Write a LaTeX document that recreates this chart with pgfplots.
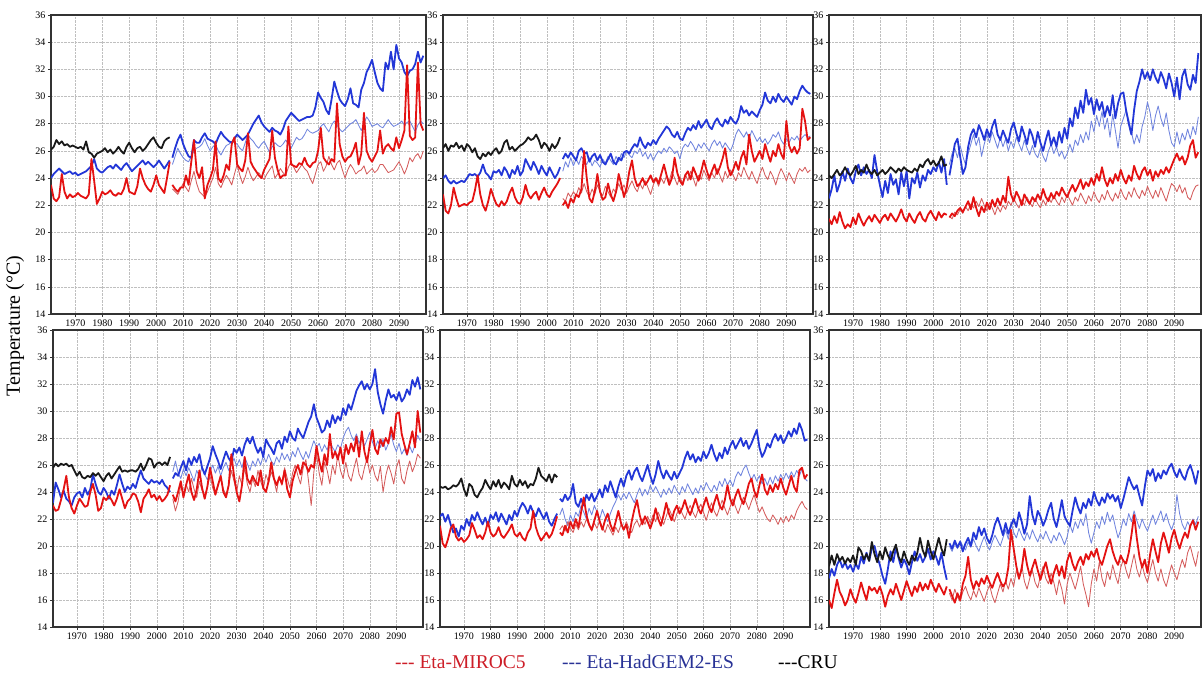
\documentclass[border=0pt]{standalone}
\usepackage{pgfplots}
\pgfplotsset{compat=1.18}
\usepackage{pgfplotstable}
\usepackage{fontspec}
\setmainfont{Liberation Serif}
\definecolor{rthick}{RGB}{228,18,18}
\definecolor{rthin}{RGB}{212,92,92}
\definecolor{bthick}{RGB}{35,55,215}
\definecolor{bthin}{RGB}{112,132,222}
\definecolor{legred}{RGB}{205,30,40}
\definecolor{legblue}{RGB}{40,50,150}

\pgfplotstableread{
yr c r b
1961 26.1 23.5 24.0
1962 26.3 22.5 24.3
1963 26.8 22.3 24.5
1964 26.5 22.6 24.7
1965 26.7 24.3 24.5
1966 26.4 23.0 24.3
1967 26.5 22.5 24.4
1968 26.3 22.8 24.5
1969 26.4 22.6 24.3
1970 26.3 22.7 24.4
1971 26.2 22.9 24.2
1972 26.3 22.7 24.3
1973 26.1 22.6 24.4
1974 26.7 22.5 24.5
1975 25.9 22.8 24.7
1976 25.8 25.4 24.9
1977 25.5 23.8 25.4
1978 25.8 22.1 24.7
1979 25.9 22.5 24.5
1980 26.0 23.0 24.4
1981 26.2 22.8 24.6
1982 25.9 22.9 24.8
1983 26.1 23.1 24.9
1984 25.8 22.8 24.7
1985 26.0 22.7 25.0
1986 26.3 22.9 24.8
1987 26.0 22.8 24.6
1988 25.8 23.2 24.9
1989 26.3 24.0 25.1
1990 26.6 23.0 24.8
1991 26.2 22.9 24.5
1992 25.9 22.8 24.7
1993 26.2 23.4 24.9
1994 26.3 24.7 25.1
1995 26.0 24.0 25.3
1996 26.2 23.5 25.0
1997 26.5 23.2 25.2
1998 26.8 23.0 25.0
1999 27.0 23.5 24.8
2000 26.6 24.2 25.0
2001 26.3 23.5 25.3
2002 26.2 23.2 25.0
2003 26.7 22.9 24.7
2004 26.9 24.0 25.0
2005 27.0 25.2 25.3
}\hA
\pgfplotstableread{
yr r8 r4 b8 b4
2006 23.5 23.2 25.5 25.0
2007 23.2 23.0 26.2 25.6
2008 23.0 22.8 26.8 26.2
2009 23.3 23.2 27.2 25.8
2010 23.3 23.6 26.5 25.5
2011 24.2 23.3 26.0 25.3
2012 23.5 23.0 25.6 25.2
2013 25.2 23.8 25.5 25.6
2014 26.8 24.5 26.8 26.0
2015 24.5 23.6 26.6 26.2
2016 24.0 23.0 26.6 26.3
2017 24.8 22.8 27.0 26.5
2018 22.5 22.6 27.3 26.9
2019 23.5 23.0 26.9 26.4
2020 24.0 23.5 26.8 26.0
2021 24.6 24.0 26.7 26.3
2022 26.7 24.8 26.5 26.5
2023 24.0 23.6 27.0 26.0
2024 23.7 23.3 27.4 25.7
2025 24.2 23.8 27.1 26.1
2026 25.0 24.2 26.9 26.4
2027 24.6 23.9 26.7 26.5
2028 26.5 23.5 26.6 26.7
2029 27.0 24.3 26.9 26.6
2030 25.0 25.0 27.2 26.5
2031 24.7 24.2 27.0 26.2
2032 24.5 23.6 26.8 26.0
2033 25.3 24.1 27.0 26.6
2034 27.3 24.8 27.2 27.2
2035 25.2 24.2 27.6 26.9
2036 24.8 23.8 28.0 26.7
2037 24.5 24.1 28.3 26.4
2038 24.2 24.4 28.6 26.2
2039 24.0 24.1 28.1 26.5
2040 24.6 23.9 27.8 26.7
2041 25.0 24.3 27.6 26.3
2042 25.4 24.6 27.4 25.9
2043 27.5 24.9 27.7 26.3
2044 25.5 24.0 27.5 26.6
2045 24.6 24.3 27.4 26.4
2046 24.0 24.7 27.2 26.3
2047 24.2 24.4 27.6 26.5
2048 24.2 24.2 28.2 26.8
2049 27.8 24.8 28.5 26.5
2050 25.0 25.2 28.8 26.2
2051 24.9 24.8 28.6 26.6
2052 24.8 24.4 28.4 27.0
2053 25.1 24.7 28.2 26.8
2054 25.0 25.0 28.3 26.9
2055 25.5 24.7 28.4 27.2
2056 25.0 24.5 28.5 27.6
2057 24.8 24.0 28.5 27.4
2058 25.1 23.6 28.6 27.3
2059 25.2 24.3 29.2 27.4
2060 26.0 25.0 30.3 27.5
2061 27.7 25.2 29.9 27.8
2062 25.5 24.5 29.6 28.0
2063 25.2 24.9 29.0 27.7
2064 25.0 25.6 28.7 27.4
2065 25.4 25.0 29.8 27.9
2066 25.2 24.6 31.1 28.2
2067 29.5 25.1 30.4 27.9
2068 26.5 25.3 29.8 27.6
2069 25.6 24.6 29.5 27.4
2070 25.2 24.0 29.3 27.6
2071 25.5 24.6 29.8 27.8
2072 25.6 25.0 30.6 28.0
2073 26.0 24.7 29.5 28.1
2074 26.6 24.3 29.4 28.3
2075 25.0 24.5 29.2 27.9
2076 25.8 24.6 30.5 27.5
2077 28.8 24.9 31.0 28.0
2078 26.0 24.3 31.8 28.5
2079 25.5 24.5 32.2 28.2
2080 25.2 24.7 32.7 27.8
2081 25.6 24.4 31.8 27.9
2082 26.0 24.6 31.0 28.0
2083 27.5 25.0 30.6 27.8
2084 25.8 25.0 30.4 27.7
2085 26.3 24.7 32.5 28.0
2086 26.5 24.4 32.0 28.3
2087 26.2 24.5 33.3 28.0
2088 26.0 24.6 32.0 27.8
2089 27.0 24.9 33.8 27.9
2090 26.2 25.2 32.8 28.0
2091 26.8 24.8 32.5 28.2
2092 27.5 24.3 31.8 27.9
2093 32.3 24.8 31.5 28.1
2094 27.1 25.5 31.9 28.2
2095 26.8 25.2 32.0 27.8
2096 27.0 25.6 32.4 27.4
2097 32.5 25.8 33.3 27.9
2098 28.0 25.4 32.5 28.2
2099 27.5 26.0 33.0 28.0
}\pA

\pgfplotstableread{
yr c r b
1961 26.2 22.8 24.0
1962 26.5 21.6 24.2
1963 26.0 21.4 23.8
1964 26.4 22.0 23.6
1965 26.3 23.3 23.8
1966 26.6 22.5 23.6
1967 26.2 21.9 23.7
1968 26.4 22.0 23.8
1969 26.0 22.1 23.7
1970 26.5 22.0 24.0
1971 26.3 22.2 24.3
1972 25.9 22.3 24.2
1973 26.2 23.1 24.3
1974 25.6 24.2 24.1
1975 25.4 22.8 24.4
1976 25.8 22.0 25.0
1977 25.6 21.6 24.4
1978 25.9 22.3 24.2
1979 25.7 23.2 23.9
1980 26.0 22.6 24.5
1981 26.2 22.1 24.4
1982 25.8 21.9 24.6
1983 26.0 22.3 24.2
1984 26.6 22.0 24.8
1985 26.8 22.3 24.5
1986 26.1 22.9 24.0
1987 26.3 23.3 24.6
1988 26.0 22.6 24.3
1989 26.2 22.2 24.9
1990 26.4 22.1 24.2
1991 26.5 22.6 24.5
1992 26.7 23.5 25.4
1993 27.0 22.8 25.0
1994 26.8 22.5 24.6
1995 26.9 22.8 25.2
1996 27.2 23.0 24.8
1997 26.8 22.4 24.3
1998 26.2 22.9 24.9
1999 26.6 23.3 24.5
2000 26.4 22.8 24.2
2001 26.0 22.6 24.8
2002 26.5 23.0 24.4
2003 26.2 23.3 24.0
2004 26.5 23.6 24.3
2005 27.0 24.0 24.8
}\hB
\pgfplotstableread{
yr r8 r4 b8 b4
2006 22.0 22.5 25.4 24.5
2007 22.3 22.3 25.8 25.2
2008 21.8 22.9 25.5 24.8
2009 22.5 22.6 25.9 25.5
2010 22.2 23.0 25.6 24.9
2011 22.8 22.7 25.3 25.4
2012 22.6 23.3 26.0 25.0
2013 23.2 22.9 26.2 25.6
2014 26.0 23.6 25.8 25.3
2015 24.0 23.0 25.9 25.0
2016 22.5 22.6 25.2 25.5
2017 22.2 23.2 25.6 24.9
2018 23.0 22.8 25.8 25.3
2019 24.3 23.5 25.3 25.1
2020 23.0 23.0 25.7 24.8
2021 22.4 22.7 25.2 25.4
2022 22.6 23.4 25.0 25.1
2023 23.6 23.0 25.4 25.6
2024 22.8 22.6 25.8 25.3
2025 22.3 23.2 25.2 25.0
2026 23.0 22.9 25.0 25.6
2027 24.3 23.6 25.5 25.2
2028 23.5 23.1 25.3 25.8
2029 22.6 23.5 25.9 25.5
2030 23.3 22.9 26.0 26.0
2031 24.5 23.4 25.8 25.7
2032 25.3 23.8 26.2 25.5
2033 24.0 23.3 26.5 26.0
2034 23.4 23.0 26.3 25.8
2035 23.6 23.6 27.0 26.2
2036 24.0 23.2 26.5 25.6
2037 23.5 23.8 26.2 25.9
2038 23.8 23.3 26.6 25.4
2039 24.2 22.8 26.4 25.8
2040 23.7 23.5 26.8 25.3
2041 24.0 23.9 26.5 25.7
2042 23.6 23.4 26.9 26.0
2043 24.3 24.0 27.2 25.8
2044 25.0 23.6 27.5 26.2
2045 24.2 24.2 27.8 25.9
2046 23.5 23.8 27.6 26.3
2047 24.0 24.5 27.2 26.1
2048 25.5 24.0 27.0 25.8
2049 24.4 23.5 27.4 26.0
2050 23.8 24.1 26.9 25.4
2051 23.5 23.6 26.8 26.2
2052 24.2 24.3 27.3 26.5
2053 24.5 23.8 27.7 26.3
2054 23.9 24.5 27.5 26.7
2055 24.8 24.0 27.9 26.4
2056 24.3 23.4 27.6 26.0
2057 23.8 24.2 28.2 26.5
2058 24.5 23.9 27.7 26.2
2059 25.3 24.6 28.0 26.6
2060 24.6 24.1 28.3 26.3
2061 24.0 23.8 27.8 26.0
2062 24.5 24.4 27.6 26.5
2063 25.0 24.0 28.1 26.8
2064 24.3 24.7 28.4 26.4
2065 24.8 24.2 28.0 26.7
2066 25.4 23.7 27.8 26.2
2067 26.2 24.5 28.3 26.6
2068 24.8 24.0 28.0 26.3
2069 24.2 24.6 28.5 26.0
2070 24.6 24.2 28.2 26.5
2071 25.2 23.8 28.0 27.2
2072 24.6 24.4 28.4 27.6
2073 25.5 24.1 29.3 27.3
2074 26.0 24.8 28.8 27.0
2075 25.0 24.3 29.0 27.4
2076 27.2 23.9 28.6 26.9
2077 26.0 24.5 28.9 27.5
2078 25.2 24.0 28.7 27.1
2079 25.6 23.6 28.5 26.7
2080 26.0 24.3 29.0 27.0
2081 25.4 24.8 29.4 26.6
2082 26.5 24.2 30.3 26.9
2083 25.8 23.9 29.7 26.5
2084 25.2 24.5 29.5 26.8
2085 26.0 24.1 30.0 27.2
2086 25.6 23.5 29.6 27.0
2087 26.5 24.2 30.2 27.4
2088 25.8 24.7 29.8 26.8
2089 25.4 24.3 29.6 26.5
2090 28.2 23.8 30.0 26.9
2091 26.4 24.4 29.7 26.6
2092 25.9 24.0 29.4 27.0
2093 26.3 23.6 30.0 26.8
2094 25.8 24.3 29.8 27.1
2095 26.2 24.7 30.4 26.7
2096 29.1 24.5 30.8 27.0
2097 28.2 24.8 30.5 27.2
2098 26.8 24.4 30.3 27.0
2099 27.0 24.6 30.2 27.1
}\pB

\pgfplotstableread{
yr c r b
1961 24.2 21.0 22.5
1962 24.0 20.6 23.2
1963 24.3 21.2 24.2
1964 24.6 20.7 23.0
1965 24.2 21.5 23.6
1966 24.4 20.8 24.5
1967 24.8 20.3 23.8
1968 24.4 20.6 24.7
1969 24.2 20.4 24.0
1970 24.5 21.1 23.6
1971 24.9 20.6 24.5
1972 24.3 21.4 25.0
1973 24.6 20.9 24.2
1974 24.4 20.5 24.8
1975 25.0 20.9 24.3
1976 24.5 21.2 24.6
1977 24.3 20.8 24.0
1978 24.6 21.3 25.7
1979 24.2 21.0 24.5
1980 24.4 20.7 23.5
1981 24.6 21.1 22.6
1982 24.3 21.3 23.8
1983 24.5 20.9 22.9
1984 24.8 21.4 24.3
1985 24.6 21.1 23.5
1986 24.4 20.8 23.9
1987 24.7 21.2 22.8
1988 24.5 21.7 24.4
1989 24.8 21.1 23.4
1990 24.6 20.8 24.5
1991 24.5 21.4 22.5
1992 24.4 21.0 24.0
1993 24.7 20.7 23.6
1994 24.5 21.2 24.4
1995 25.0 21.5 23.3
1996 24.8 21.0 24.2
1997 25.2 20.8 23.8
1998 25.4 21.3 24.6
1999 25.0 21.6 24.3
2000 25.3 21.2 24.8
2001 24.9 20.9 24.5
2002 25.1 21.5 25.2
2003 25.6 21.1 24.4
2004 24.9 21.4 25.4
2005 25.0 21.3 23.5
}\hC
\pgfplotstableread{
yr r8 r4 b8 b4
2006 21.1 21.2 24.2 25.0
2007 21.4 21.0 25.3 25.8
2008 21.2 21.5 26.5 26.2
2009 21.6 21.3 26.9 25.5
2010 21.8 21.7 25.6 26.4
2011 21.5 21.4 24.3 25.6
2012 21.9 21.9 24.8 25.0
2013 22.3 21.6 26.3 25.8
2014 21.7 22.1 27.2 26.5
2015 22.6 21.8 27.6 27.2
2016 21.8 22.3 27.0 26.4
2017 21.2 21.9 27.9 27.0
2018 21.9 22.5 27.4 25.6
2019 21.5 22.0 26.8 26.5
2020 22.2 21.6 27.6 27.2
2021 21.7 22.2 27.0 26.6
2022 22.4 21.8 27.8 27.4
2023 21.9 21.3 28.3 26.8
2024 22.5 21.9 27.2 26.2
2025 22.0 21.5 26.8 27.0
2026 22.7 22.0 27.5 26.3
2027 22.2 21.7 27.0 26.9
2028 24.1 22.3 26.6 26.0
2029 22.8 22.0 27.6 26.7
2030 22.3 22.5 28.1 26.2
2031 23.0 22.1 27.3 27.0
2032 22.6 21.8 26.7 26.5
2033 22.0 22.4 27.8 26.0
2034 22.8 22.0 27.2 26.8
2035 22.4 22.6 26.5 26.2
2036 22.1 22.2 27.6 25.7
2037 22.6 21.9 27.1 26.4
2038 22.3 22.5 26.3 25.8
2039 22.8 22.1 27.4 25.5
2040 22.4 21.8 26.6 26.2
2041 23.2 22.4 26.0 25.6
2042 22.6 22.0 26.8 25.2
2043 22.3 22.6 27.5 26.0
2044 22.9 22.2 26.4 26.5
2045 22.5 22.7 27.0 25.8
2046 23.0 22.3 26.3 26.3
2047 22.7 22.0 27.4 25.6
2048 23.3 22.6 26.6 26.0
2049 22.9 22.2 27.7 25.4
2050 22.6 22.8 26.9 25.8
2051 23.1 22.4 28.4 26.5
2052 23.5 22.0 27.8 25.9
2053 23.0 22.6 29.2 26.8
2054 23.4 22.3 28.4 26.4
2055 23.9 22.9 29.7 27.2
2056 23.2 22.5 28.8 26.6
2057 23.7 22.1 30.5 27.4
2058 23.4 22.7 29.4 26.8
2059 24.0 22.3 29.9 28.2
2060 23.5 23.0 28.7 27.4
2061 24.3 22.5 29.8 28.6
2062 23.8 22.2 29.0 27.8
2063 24.8 22.8 29.6 28.9
2064 23.9 22.4 28.5 27.6
2065 23.4 23.1 29.3 28.4
2066 24.0 22.6 28.6 27.0
2067 23.6 22.3 30.1 28.7
2068 24.3 22.9 28.4 27.5
2069 23.8 22.5 29.5 26.2
2070 24.6 23.2 30.2 27.8
2071 24.0 22.7 30.3 28.4
2072 23.6 22.4 29.0 29.0
2073 24.2 23.0 28.0 28.3
2074 23.8 22.6 27.2 27.4
2075 24.9 23.3 29.0 26.5
2076 24.3 22.8 30.4 27.2
2077 23.9 22.5 31.1 26.6
2078 24.5 23.1 32.0 27.8
2079 24.8 22.7 31.3 28.5
2080 24.2 23.4 31.8 29.6
2081 24.6 22.9 31.2 28.8
2082 23.8 22.5 32.0 27.5
2083 24.5 23.1 31.4 28.6
2084 24.1 22.6 31.0 29.3
2085 24.6 23.3 31.8 28.4
2086 24.3 22.8 31.3 27.8
2087 24.8 22.3 30.6 28.8
2088 24.4 23.0 31.7 27.5
2089 24.9 23.6 31.0 26.6
2090 25.4 23.4 30.0 26.3
2091 25.8 23.0 31.4 27.4
2092 25.3 23.5 29.8 26.5
2093 25.6 22.9 31.5 27.3
2094 25.0 23.3 32.0 26.8
2095 25.5 22.6 30.9 27.6
2096 26.4 22.4 30.5 26.9
2097 26.8 23.0 31.6 27.8
2098 25.5 23.4 31.0 27.2
2099 25.9 23.5 33.2 28.5
}\pC

\pgfplotstableread{
yr c r b
1961 25.8 23.0 23.2
1962 26.1 22.6 24.7
1963 25.9 22.7 24.2
1964 26.1 23.4 23.6
1965 26.0 24.2 24.1
1966 26.1 25.2 23.5
1967 25.9 23.6 23.3
1968 26.0 22.8 23.0
1969 25.6 22.4 23.6
1970 25.2 23.0 23.9
1971 25.5 23.5 24.0
1972 25.1 23.2 23.6
1973 25.0 22.9 24.3
1974 25.2 23.0 23.8
1975 25.1 24.0 24.2
1976 25.4 24.6 25.3
1977 25.2 23.8 24.6
1978 25.4 22.6 24.0
1979 25.1 22.8 23.8
1980 24.8 23.6 24.3
1981 25.2 23.4 24.0
1982 25.4 23.7 23.5
1983 25.0 23.4 24.1
1984 25.3 23.0 23.8
1985 25.6 23.5 24.5
1986 25.9 24.2 25.3
1987 25.5 23.5 24.6
1988 25.6 22.8 24.0
1989 25.5 23.3 24.4
1990 25.6 23.5 24.2
1991 25.6 23.9 24.6
1992 25.5 23.8 24.3
1993 25.7 23.3 25.0
1994 26.1 22.5 25.6
1995 25.6 23.5 25.0
1996 26.0 23.8 24.8
1997 26.5 24.2 24.6
1998 26.4 23.6 24.9
1999 25.8 23.8 24.7
2000 26.1 23.4 24.8
2001 26.2 23.7 24.6
2002 26.0 23.3 24.9
2003 26.2 23.5 24.5
2004 26.0 23.8 24.3
2005 26.6 24.5 24.0
}\hD
\pgfplotstableread{
yr r8 r4 b8 b4
2006 23.8 23.5 25.0 25.5
2007 23.3 22.6 25.4 26.3
2008 24.0 23.3 25.2 25.4
2009 24.8 24.5 25.8 25.0
2010 23.6 23.8 26.3 25.7
2011 24.5 24.6 25.6 25.2
2012 25.3 24.0 26.5 25.8
2013 24.0 25.0 26.0 25.3
2014 23.4 24.2 26.6 24.8
2015 24.2 23.6 26.2 25.6
2016 25.6 24.8 26.8 25.1
2017 24.3 24.1 25.8 25.9
2018 23.5 23.7 25.3 25.3
2019 24.4 24.4 25.9 24.9
2020 25.8 25.2 26.5 25.5
2021 24.8 24.3 27.4 26.0
2022 23.8 23.8 26.8 25.4
2023 24.5 24.6 26.3 25.9
2024 25.2 25.0 25.7 25.2
2025 24.0 24.2 26.4 25.8
2026 23.6 23.8 27.0 26.2
2027 24.5 24.5 26.5 25.6
2028 26.8 25.6 26.2 26.0
2029 25.2 24.8 27.2 26.5
2030 24.0 24.0 26.9 25.9
2031 23.3 25.2 27.3 26.4
2032 24.5 24.5 26.7 25.8
2033 26.6 25.8 27.5 26.6
2034 25.0 24.6 28.0 26.1
2035 24.6 24.0 27.6 25.6
2036 25.2 25.0 28.1 26.3
2037 24.8 24.4 27.4 25.9
2038 24.5 25.6 26.9 26.5
2039 25.6 24.8 27.3 26.0
2040 24.3 24.2 26.6 26.7
2041 24.0 25.3 27.9 26.2
2042 24.8 24.7 27.5 26.8
2043 26.2 25.5 27.2 26.3
2044 25.0 24.9 26.8 26.0
2045 24.5 24.0 27.6 26.6
2046 25.1 25.2 27.8 26.2
2047 24.6 24.5 27.2 26.9
2048 25.6 25.8 28.1 26.4
2049 24.2 25.0 27.7 26.8
2050 23.6 24.3 28.5 26.3
2051 24.8 25.4 28.0 27.0
2052 25.5 26.0 27.8 26.6
2053 26.0 25.2 28.7 27.3
2054 25.3 24.6 28.3 26.8
2055 26.2 25.8 28.0 26.4
2056 26.0 26.4 28.6 27.0
2057 25.5 24.8 29.2 26.5
2058 26.0 23.0 29.6 27.2
2059 25.8 25.5 30.5 27.8
2060 27.4 26.8 29.5 27.3
2061 26.3 25.4 29.0 27.6
2062 25.5 24.5 28.4 27.0
2063 26.8 26.2 28.6 27.5
2064 26.0 25.6 29.3 27.1
2065 28.3 24.6 28.8 27.8
2066 26.5 26.0 29.7 27.3
2067 27.0 25.3 29.1 27.0
2068 26.4 26.8 29.6 27.5
2069 27.3 25.6 29.3 27.2
2070 26.1 25.0 30.2 28.0
2071 27.5 26.2 29.7 28.5
2072 26.8 25.2 30.5 28.8
2073 27.6 24.8 30.1 28.2
2074 27.0 25.7 30.8 27.8
2075 28.1 26.5 31.5 28.3
2076 26.6 25.3 31.9 27.6
2077 28.5 24.9 32.2 28.0
2078 27.0 25.8 31.6 27.4
2079 26.2 26.5 32.0 27.9
2080 27.5 25.4 31.6 28.4
2081 28.6 26.0 32.0 27.7
2082 27.2 25.2 33.1 27.2
2083 26.8 24.8 31.4 27.8
2084 27.9 25.9 30.5 27.3
2085 27.4 24.0 29.8 27.9
2086 28.0 25.2 30.8 27.1
2087 27.6 26.0 31.6 27.6
2088 28.8 25.4 31.0 28.3
2089 27.9 24.6 31.2 27.5
2090 29.8 25.8 30.8 27.0
2091 29.9 26.4 31.4 27.6
2092 28.3 25.0 30.7 26.8
2093 27.5 24.6 31.0 27.2
2094 26.8 25.6 31.6 26.7
2095 27.6 26.3 31.2 27.4
2096 28.5 25.5 32.3 26.9
2097 27.3 26.0 31.8 27.5
2098 30.0 26.8 32.5 28.2
2099 28.4 26.5 31.6 27.8
}\pD

\pgfplotstableread{
yr c r b
1961 24.4 21.5 22.2
1962 24.3 20.2 22.4
1963 24.4 19.9 21.8
1964 24.2 20.5 22.3
1965 24.3 21.3 21.6
1966 24.5 21.6 21.0
1967 24.4 20.7 21.3
1968 24.6 20.4 20.7
1969 25.0 20.6 21.5
1970 24.2 20.3 21.2
1971 23.7 20.5 22.0
1972 24.6 20.8 21.5
1973 24.4 21.7 22.3
1974 23.8 21.2 21.9
1975 23.6 20.6 22.5
1976 24.0 20.8 22.0
1977 24.3 20.5 21.6
1978 24.9 21.0 22.1
1979 24.5 21.8 21.5
1980 24.2 21.0 22.3
1981 24.8 20.7 22.0
1982 24.4 20.9 22.5
1983 24.9 21.4 21.8
1984 24.3 20.8 22.4
1985 24.7 20.6 22.0
1986 24.5 20.9 21.6
1987 24.2 21.2 22.3
1988 25.2 21.6 21.9
1989 24.6 20.9 22.6
1990 24.4 20.7 22.2
1991 24.9 21.0 22.8
1992 24.5 20.6 23.2
1993 24.8 20.4 22.9
1994 24.3 21.0 22.4
1995 24.6 21.3 23.0
1996 24.5 22.6 22.5
1997 25.0 21.4 22.2
1998 25.8 20.8 22.8
1999 25.2 20.4 22.4
2000 25.0 20.7 22.0
2001 24.8 21.0 22.5
2002 25.3 20.6 21.8
2003 24.7 20.9 21.5
2004 25.3 21.5 22.0
2005 25.1 22.2 22.4
}\hE
\pgfplotstableread{
yr r8 r4 b8 b4
2006 21.0 21.2 23.5 22.3
2007 20.8 21.5 23.3 22.8
2008 21.5 21.1 23.8 22.0
2009 21.0 21.8 23.4 21.5
2010 21.8 21.3 23.7 22.3
2011 21.3 21.0 24.6 21.8
2012 22.0 21.6 23.2 22.5
2013 21.4 21.2 22.9 22.2
2014 22.5 21.8 23.5 23.0
2015 23.6 21.4 23.0 22.5
2016 22.3 22.0 23.8 22.0
2017 21.6 21.5 23.4 22.8
2018 21.2 21.1 23.9 22.3
2019 21.9 21.7 23.3 23.0
2020 22.6 21.3 23.7 22.5
2021 21.8 21.9 24.2 22.0
2022 21.2 21.4 23.6 22.7
2023 21.9 21.0 24.5 22.2
2024 22.4 21.6 24.0 21.8
2025 21.6 21.2 24.8 22.4
2026 21.1 20.8 24.2 22.9
2027 21.8 21.4 23.6 23.3
2028 22.6 21.0 24.4 23.8
2029 21.7 21.6 25.0 23.4
2030 21.2 21.2 24.4 23.9
2031 21.6 21.8 25.2 23.5
2032 20.6 21.3 25.6 24.0
2033 21.8 21.0 24.9 23.6
2034 22.7 21.6 25.5 23.2
2035 23.4 21.9 25.8 23.8
2036 22.3 21.4 25.2 24.3
2037 21.6 22.0 24.8 23.7
2038 22.2 21.6 25.4 24.2
2039 21.8 22.2 26.0 23.8
2040 21.3 21.7 25.2 24.5
2041 21.9 22.3 24.6 24.0
2042 22.8 21.8 25.3 24.4
2043 22.0 22.5 26.3 24.0
2044 21.5 22.0 25.5 23.6
2045 22.3 21.6 25.0 24.2
2046 23.2 22.2 25.6 23.8
2047 22.4 22.8 25.2 24.3
2048 21.9 22.3 24.9 23.9
2049 22.6 21.8 25.5 24.5
2050 23.0 22.4 25.0 24.1
2051 22.4 22.9 25.4 23.8
2052 22.8 22.4 25.8 24.4
2053 23.4 22.0 26.5 24.0
2054 22.7 22.6 27.0 24.6
2055 22.3 23.0 26.4 24.2
2056 22.9 22.5 26.8 23.8
2057 23.5 22.1 26.2 24.3
2058 22.8 22.7 26.6 23.9
2059 22.4 23.1 26.3 24.5
2060 23.0 22.5 27.0 24.1
2061 23.6 21.9 26.5 24.7
2062 22.9 22.6 26.9 24.3
2063 22.5 23.2 27.5 24.0
2064 23.2 22.6 26.8 24.5
2065 23.8 22.2 26.3 24.1
2066 23.0 22.8 26.9 24.8
2067 22.7 23.4 26.5 24.4
2068 23.4 22.8 27.3 25.0
2069 24.5 22.3 26.8 24.5
2070 23.5 22.9 27.4 24.9
2071 23.0 23.5 27.8 24.4
2072 23.7 22.9 27.2 25.1
2073 24.2 22.4 27.6 25.5
2074 23.5 23.0 28.0 25.2
2075 23.1 23.6 27.4 25.7
2076 23.8 23.2 27.8 26.0
2077 24.6 22.7 27.2 25.4
2078 25.0 23.3 27.6 24.9
2079 24.1 23.8 28.1 25.3
2080 23.6 23.1 28.6 24.8
2081 24.5 22.5 27.3 25.2
2082 25.3 22.9 26.6 24.6
2083 24.2 22.4 27.0 25.0
2084 23.8 22.0 27.6 24.5
2085 24.5 21.8 27.3 25.1
2086 24.0 22.3 27.9 24.6
2087 24.6 22.0 28.3 25.2
2088 24.2 21.6 27.8 24.8
2089 25.0 22.1 28.2 25.3
2090 24.3 21.7 27.6 24.9
2091 23.8 22.2 28.0 25.4
2092 24.5 21.8 28.5 25.0
2093 25.2 22.3 28.1 25.5
2094 24.4 22.0 28.7 25.1
2095 24.0 22.6 28.3 25.6
2096 25.6 23.0 29.1 25.2
2097 25.8 23.3 28.6 25.7
2098 25.0 22.9 27.8 25.0
2099 25.3 22.7 27.9 24.8
}\pE

\pgfplotstableread{
yr c r b
1961 18.5 16.0 17.6
1962 19.3 15.4 18.3
1963 18.6 16.5 17.8
1964 19.4 17.5 18.6
1965 18.9 16.6 19.0
1966 19.2 16.2 18.4
1967 18.7 15.6 18.8
1968 19.1 16.0 18.3
1969 18.8 16.8 18.6
1970 19.3 16.2 18.1
1971 18.6 15.8 18.7
1972 19.9 16.5 18.3
1973 19.6 17.3 19.2
1974 19.0 16.6 18.7
1975 19.4 16.0 19.5
1976 18.9 17.0 18.9
1977 20.3 16.7 19.8
1978 19.4 16.9 20.0
1979 18.8 16.5 19.2
1980 19.6 17.0 18.6
1981 19.0 16.4 17.8
1982 19.9 15.5 17.2
1983 19.3 16.3 18.3
1984 18.9 16.8 19.6
1985 19.6 16.4 18.8
1986 20.1 17.2 19.9
1987 19.2 16.6 19.1
1988 18.8 16.0 18.4
1989 19.6 16.7 19.0
1990 19.0 17.4 18.6
1991 18.6 16.8 17.9
1992 19.3 16.3 18.8
1993 18.9 17.0 19.6
1994 19.5 16.6 18.9
1995 20.6 17.3 19.4
1996 19.7 16.7 18.8
1997 19.2 17.2 19.2
1998 20.4 16.8 19.8
1999 19.6 17.5 19.0
2000 19.0 17.0 19.6
2001 19.8 16.6 19.2
2002 20.6 17.2 18.6
2003 19.8 16.8 19.5
2004 19.3 16.4 18.4
2005 20.5 17.0 17.5
}\hF
\pgfplotstableread{
yr r8 r4 b8 b4
2006 16.8 16.5 20.2 20.0
2007 16.3 16.0 19.8 19.6
2008 15.8 16.8 20.4 20.2
2009 16.5 16.2 19.9 19.8
2010 16.0 15.9 20.3 20.4
2011 17.2 16.6 19.6 20.0
2012 17.8 17.0 20.2 19.7
2013 19.2 16.4 20.6 20.3
2014 17.5 16.0 20.0 19.9
2015 16.8 16.7 21.0 20.5
2016 17.4 16.2 20.5 20.0
2017 17.0 16.9 21.4 19.6
2018 17.6 16.4 20.8 20.2
2019 17.2 15.9 21.3 20.7
2020 17.8 16.6 20.6 20.1
2021 17.3 17.1 20.2 19.7
2022 16.9 16.3 20.8 20.3
2023 17.5 15.8 21.6 20.8
2024 18.0 16.5 22.1 20.4
2025 17.4 17.2 21.5 20.0
2026 17.0 16.6 20.8 20.6
2027 17.3 17.4 21.7 21.2
2028 18.4 16.8 20.9 20.5
2029 21.2 17.6 21.5 21.8
2030 19.8 17.0 22.0 21.0
2031 18.5 18.2 21.4 20.6
2032 17.6 17.5 22.5 21.3
2033 18.3 18.6 21.8 20.8
2034 19.8 17.4 20.9 20.4
2035 18.6 16.8 21.6 21.0
2036 17.8 17.6 23.7 20.5
2037 18.4 18.2 22.3 21.2
2038 19.0 17.3 21.6 20.7
2039 18.2 16.9 22.6 20.3
2040 17.5 17.8 22.2 20.9
2041 18.2 18.5 21.5 20.5
2042 18.8 17.6 22.0 21.1
2043 17.9 17.2 22.7 20.6
2044 17.2 18.0 23.2 20.2
2045 18.0 17.3 22.0 20.8
2046 18.6 16.4 21.4 20.4
2047 17.8 17.5 22.3 21.0
2048 18.5 16.8 23.4 20.6
2049 17.6 15.7 22.2 20.1
2050 18.9 17.2 21.8 20.7
2051 19.5 18.0 21.5 21.6
2052 18.7 17.4 22.6 21.0
2053 18.2 16.8 23.6 21.8
2054 18.8 17.6 22.9 21.3
2055 19.2 18.5 22.4 22.0
2056 18.6 17.2 23.2 21.5
2057 19.4 16.4 22.8 22.4
2058 19.0 15.5 23.5 21.0
2059 19.6 17.2 23.0 20.2
2060 19.2 18.3 24.0 21.0
2061 19.8 17.4 23.4 21.8
2062 19.0 18.8 23.0 21.3
2063 18.6 17.6 23.6 22.2
2064 19.3 17.0 23.2 21.6
2065 20.0 18.1 23.9 22.5
2066 20.5 17.5 23.5 21.8
2067 19.6 18.6 23.8 22.3
2068 19.0 17.8 23.3 21.4
2069 18.6 17.2 23.7 20.6
2070 19.3 18.4 22.8 21.2
2071 18.9 19.0 23.5 22.0
2072 18.7 18.2 24.3 21.5
2073 19.5 17.6 25.1 22.4
2074 20.8 18.5 24.6 21.8
2075 22.3 19.4 24.2 22.6
2076 20.6 18.3 24.5 21.9
2077 19.2 17.7 23.7 21.3
2078 18.4 18.6 23.0 22.0
2079 19.0 17.8 24.4 21.5
2080 18.0 17.3 25.6 21.1
2081 19.4 18.2 25.2 21.7
2082 20.5 19.0 25.7 22.3
2083 19.6 18.0 24.8 21.6
2084 18.8 17.4 25.4 22.1
2085 20.2 18.3 25.0 22.6
2086 21.0 17.5 25.6 21.8
2087 20.3 17.0 25.3 22.4
2088 19.5 17.8 25.8 21.7
2089 20.6 18.6 26.1 21.2
2090 21.2 18.0 25.5 21.8
2091 20.4 17.5 25.1 23.8
2092 19.8 18.3 25.7 22.4
2093 20.5 19.0 25.2 21.6
2094 21.0 18.4 24.9 21.2
2095 20.6 19.5 25.6 21.8
2096 21.5 20.0 26.0 21.4
2097 21.9 19.2 25.4 22.0
2098 21.2 18.5 24.6 21.6
2099 21.8 19.6 25.6 22.2
}\pF

\pgfplotsset{
  panel/.style={
    scale only axis, anchor=south west,
    xmin=1961, xmax=2100, ymin=14, ymax=36,
    xtick={1970,1980,...,2090}, ytick={14,16,...,36},
    grid=major,
    major grid style={gray!50, densely dotted, line width=0.5pt},
    axis line style={black!80, line width=1.6pt},
    tick pos=left, tick align=outside, major tick length=3pt,
    tick style={black!80, line width=0.6pt},
    ticklabel style={font=\fontsize{10}{10}\selectfont},
    /pgf/number format/1000 sep={},
    /pgf/number format/assume math mode=true,
    xticklabel style={yshift=1pt},
    yticklabel style={xshift=1pt},
  },
  rk/.style={rthick, line width=1.8pt, line join=round},
  rt/.style={rthin, line width=0.85pt, line join=round},
  bk/.style={bthick, line width=1.8pt, line join=round},
  bt/.style={bthin, line width=0.85pt, line join=round},
  kk/.style={black!90, line width=1.8pt, line join=round},
}

\newcommand{\panel}[6]{%
\begin{axis}[panel, at={(#1pt,#2pt)}, width=#3pt, height=#4pt]
\addplot[bt] table[x=yr, y=b4] {#6};
\addplot[rt] table[x=yr, y=r4] {#6};
\addplot[bk] table[x=yr, y=b8] {#6};
\addplot[rk] table[x=yr, y=r8] {#6};
\addplot[bk] table[x=yr, y=b] {#5};
\addplot[rk] table[x=yr, y=r] {#5};
\addplot[kk] table[x=yr, y=c] {#5};
\end{axis}}

\begin{document}
\begin{tikzpicture}
\useasboundingbox (0pt,0pt) rectangle (1203pt,674pt);
\panel{51}{360}{375}{299}{\hA}{\pA}
\panel{443}{360}{370}{299}{\hB}{\pB}
\panel{829}{360}{372}{299}{\hC}{\pC}
\panel{53}{47}{370}{297}{\hD}{\pD}
\panel{440}{47}{370}{297}{\hE}{\pE}
\panel{829}{47}{372}{297}{\hF}{\pF}
\node[rotate=90, font=\fontsize{20}{20}\selectfont] at (15pt,348pt) {Temperature (°C)};
\node[anchor=base west, inner sep=0pt, text=legred, font=\fontsize{19.5}{19.5}\selectfont] at (395pt,5pt) {-{}-{}- Eta-MIROC5};
\node[anchor=base west, inner sep=0pt, text=legblue, font=\fontsize{19.5}{19.5}\selectfont] at (562pt,5pt) {-{}-{}- Eta-HadGEM2-ES};
\node[anchor=base west, inner sep=0pt, text=black, font=\fontsize{19.5}{19.5}\selectfont] at (778pt,5pt) {-{}-{}-CRU};
\end{tikzpicture}
\end{document}
